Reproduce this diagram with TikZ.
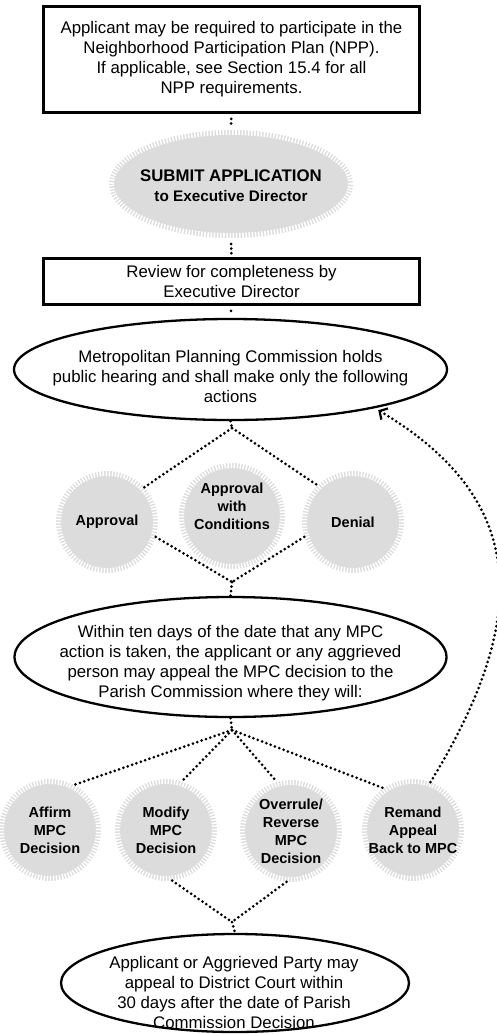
\documentclass[tikz,border=0pt]{standalone}
\usepackage{fontspec}
\setmainfont{Liberation Sans}
\usetikzlibrary{shapes.geometric,arrows.meta}
\definecolor{gearfill}{RGB}{220,220,220}

\begin{document}
\begin{tikzpicture}[x=1pt,y=-1pt,
  body/.style={font=\fontsize{16.8}{20}\selectfont, align=center, inner sep=0pt},
  gearlabel/.style={font=\bfseries\fontsize{14.5}{18}\selectfont, align=center},
  framebox/.style={draw, line width=2.8pt, rectangle, inner sep=0pt,
    font=\fontsize{16.8}{20}\selectfont, align=center},
  outline/.style={draw, line width=2.3pt, ellipse, inner sep=0pt},
  gear/.style={circle, fill=gearfill, draw=white, line width=10pt,
    dash pattern=on 1.6pt off 1.6pt, outer sep=0pt, inner sep=0pt,
    minimum size=#1, font=\bfseries\fontsize{14.5}{18}\selectfont, align=center},
  gearoval/.style={ellipse, fill=gearfill, draw=white, line width=10pt,
    dash pattern=on 1.6pt off 1.6pt, outer sep=0pt, inner sep=0pt},
  dots/.style={line width=3pt, dash pattern=on 0pt off 4.6pt, line cap=round},
]
\useasboundingbox (0,0) rectangle (496,1034);

% Top notice box
\node[framebox, minimum width=376, minimum height=106] (npp) at (231.5,59.5)
  {Applicant may be required to participate in the\\
   Neighborhood Participation Plan (NPP).\\
   If applicable, see Section 15.4 for all\\
   NPP requirements.};

% Submission oval
\node[gearoval, minimum width=244, minimum height=108] (submit) at (231,184) {};
\node[align=center, inner sep=0pt, font=\bfseries\fontsize{16.8}{20}\selectfont]
  (submittext) at (231,186)
  {SUBMIT APPLICATION\\
   {\fontsize{15.3}{20}\selectfont to Executive Director}};

% Completeness review
\node[framebox, minimum width=376, minimum height=46] (review) at (231.5,281.5)
  {Review for completeness by\\Executive Director};

% MPC hearing
\node[outline, minimum width=433, minimum height=101] (mpc) at (230.5,369.5) {};
\node[body] (mpctext) at (230.5,376.5)
  {Metropolitan Planning Commission holds\\
   public hearing and shall make only the following\\
   actions};

% MPC actions
\node[gear=102] (approval) at (107,522) {Approval};
\node[gear=106] (cond) at (232,516) {};
\node[gearlabel, inner sep=0pt] (condtext) at (232,506) {Approval\\with\\Conditions};
\node[gear=102] (denial) at (353,522) {Denial};

% Appeal to Parish Commission
\node[outline, minimum width=432, minimum height=120] (within) at (230.5,657) {};
\node[body] (withintext) at (230.5,663)
  {Within ten days of the date that any MPC\\
   action is taken, the applicant or any aggrieved\\
   person may appeal the MPC decision to the\\
   Parish Commission where they will:};

% Parish Commission outcomes
\node[gear=102] (affirm) at (50,830) {Affirm\\MPC\\Decision};
\node[gear=102] (modify) at (166,830) {Modify\\MPC\\Decision};
\node[gear=102] (overrule) at (291,831) {Overrule/\\Reverse\\MPC\\Decision};
\node[gear=102] (remand) at (413,830) {Remand\\Appeal\\Back to MPC};

% District Court
\node[outline, minimum width=348, minimum height=98] (court) at (235,983) {};
\node[body] (courttext) at (234,992)
  {Applicant or Aggrieved Party may\\
   appeal to District Court within\\
   30 days after the date of Parish\\
   Commission Decision};

% Junction points
\coordinate (fork1) at (232,428);
\coordinate (join1) at (232,582);
\coordinate (fork2) at (232,730);
\coordinate (join2) at (232,922);

% Connectors
\draw[dots, shorten <=5pt, shorten >=3pt] (npp.south) -- (submit.north);
\draw[dots, shorten <=6pt, shorten >=3pt] (submit.south) -- (review.north);
\draw[dots, shorten <=5pt, shorten >=3pt] (review.south) -- (mpc.north);
\draw[dots] (mpc.south) -- (fork1);
\draw[dots] (fork1) -- (approval.43);
\draw[dots] (fork1) -- (denial.134);
\draw[dots] (approval.-17) -- (join1);
\draw[dots] (denial.-163) -- (join1);
\draw[dots] (join1) -- (within.north);
\draw[dots] (within.south) -- (fork2);
\draw[dots] (fork2) -- (affirm.62);
\draw[dots] (fork2) -- (modify.72);
\draw[dots] (fork2) -- (overrule.106);
\draw[dots] (fork2) -- (remand.125);
\draw[dots] (modify.-83) -- (join2);
\draw[dots] (overrule.-95) -- (join2);
\draw[dots] (join2) -- (court.north);
\draw[dots, shorten >=4pt, -{Straight Barb[length=6pt,width=13pt,line width=2.2pt]}]
  (remand.70) .. controls (530,620) and (530,500) .. (mpc.-15.5);
\end{tikzpicture}
\end{document}
